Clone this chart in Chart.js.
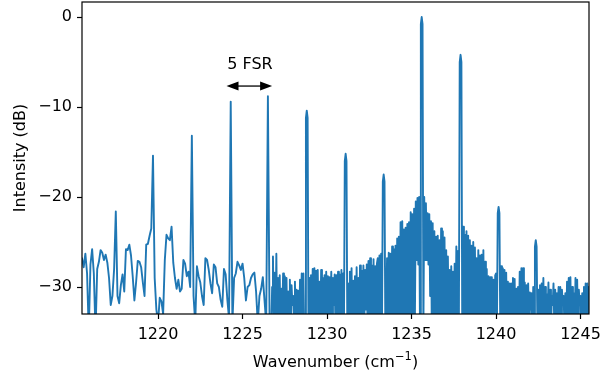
<!DOCTYPE html>
<html lang="en">
<head>
  <meta charset="UTF-8">
  <title>Spectrum</title>
  <script src="https://cdn.jsdelivr.net/npm/chart.js"></script>
  <style>
    body {
      margin: 0;
      padding: 0;
      background: #fff;
    }
    canvas {
      display: block;
    }
  </style>
</head>
<body>
  <canvas id="spectrum" width="601" height="371"></canvas>
  <script>
    // wavenumber grid (cm^-1): 0.1 steps on the quiet side, 0.05 steps from 1226.7 on
    const wavenumber = [
      1215.5, 1215.6, 1215.7, 1215.8, 1215.9,
      1216.0, 1216.1, 1216.2, 1216.3, 1216.4, 1216.5, 1216.6, 1216.7, 1216.8, 1216.9,
      1217.0, 1217.1, 1217.2, 1217.3, 1217.4, 1217.5, 1217.6, 1217.7, 1217.8, 1217.9,
      1218.0, 1218.1, 1218.2, 1218.3, 1218.4, 1218.5, 1218.6, 1218.7, 1218.8, 1218.9,
      1219.0, 1219.1, 1219.2, 1219.3, 1219.4, 1219.5, 1219.6, 1219.7, 1219.8, 1219.9,
      1220.0, 1220.1, 1220.2, 1220.3, 1220.4, 1220.5, 1220.6, 1220.7, 1220.8, 1220.9,
      1221.0, 1221.1, 1221.2, 1221.3, 1221.4, 1221.5, 1221.6, 1221.7, 1221.8, 1221.9,
      1222.0, 1222.1, 1222.2, 1222.3, 1222.4, 1222.5, 1222.6, 1222.7, 1222.8, 1222.9,
      1223.0, 1223.1, 1223.2, 1223.3, 1223.4, 1223.5, 1223.6, 1223.7, 1223.8, 1223.9,
      1224.0, 1224.1, 1224.2, 1224.3, 1224.4, 1224.5, 1224.6, 1224.7, 1224.8, 1224.9,
      1225.0, 1225.1, 1225.2, 1225.3, 1225.4, 1225.5, 1225.6, 1225.7, 1225.8, 1225.9,
      1226.0, 1226.1, 1226.2, 1226.3, 1226.4, 1226.5, 1226.6,
      1226.70, 1226.75, 1226.80, 1226.85, 1226.90, 1226.95,
      1227.00, 1227.05, 1227.10, 1227.15, 1227.20, 1227.25, 1227.30, 1227.35, 1227.40, 1227.45,
      1227.50, 1227.55, 1227.60, 1227.65, 1227.70, 1227.75, 1227.80, 1227.85, 1227.90, 1227.95,
      1228.00, 1228.05, 1228.10, 1228.15, 1228.20, 1228.25, 1228.30, 1228.35, 1228.40, 1228.45,
      1228.50, 1228.55, 1228.60, 1228.65, 1228.70, 1228.75, 1228.80, 1228.85, 1228.90, 1228.95,
      1229.00, 1229.05, 1229.10, 1229.15, 1229.20, 1229.25, 1229.30, 1229.35, 1229.40, 1229.45,
      1229.50, 1229.55, 1229.60, 1229.65, 1229.70, 1229.75, 1229.80, 1229.85, 1229.90, 1229.95,
      1230.00, 1230.05, 1230.10, 1230.15, 1230.20, 1230.25, 1230.30, 1230.35, 1230.40, 1230.45,
      1230.50, 1230.55, 1230.60, 1230.65, 1230.70, 1230.75, 1230.80, 1230.85, 1230.90, 1230.95,
      1231.00, 1231.05, 1231.10, 1231.15, 1231.20, 1231.25, 1231.30, 1231.35, 1231.40, 1231.45,
      1231.50, 1231.55, 1231.60, 1231.65, 1231.70, 1231.75, 1231.80, 1231.85, 1231.90, 1231.95,
      1232.00, 1232.05, 1232.10, 1232.15, 1232.20, 1232.25, 1232.30, 1232.35, 1232.40, 1232.45,
      1232.50, 1232.55, 1232.60, 1232.65, 1232.70, 1232.75, 1232.80, 1232.85, 1232.90, 1232.95,
      1233.00, 1233.05, 1233.10, 1233.15, 1233.20, 1233.25, 1233.30, 1233.35, 1233.40, 1233.45,
      1233.50, 1233.55, 1233.60, 1233.65, 1233.70, 1233.75, 1233.80, 1233.85, 1233.90, 1233.95,
      1234.00, 1234.05, 1234.10, 1234.15, 1234.20, 1234.25, 1234.30, 1234.35, 1234.40, 1234.45,
      1234.50, 1234.55, 1234.60, 1234.65, 1234.70, 1234.75, 1234.80, 1234.85, 1234.90, 1234.95,
      1235.00, 1235.05, 1235.10, 1235.15, 1235.20, 1235.25, 1235.30, 1235.35, 1235.40, 1235.45,
      1235.50, 1235.55, 1235.60, 1235.65, 1235.70, 1235.75, 1235.80, 1235.85, 1235.90, 1235.95,
      1236.00, 1236.05, 1236.10, 1236.15, 1236.20, 1236.25, 1236.30, 1236.35, 1236.40, 1236.45,
      1236.50, 1236.55, 1236.60, 1236.65, 1236.70, 1236.75, 1236.80, 1236.85, 1236.90, 1236.95,
      1237.00, 1237.05, 1237.10, 1237.15, 1237.20, 1237.25, 1237.30, 1237.35, 1237.40, 1237.45,
      1237.50, 1237.55, 1237.60, 1237.65, 1237.70, 1237.75, 1237.80, 1237.85, 1237.90, 1237.95,
      1238.00, 1238.05, 1238.10, 1238.15, 1238.20, 1238.25, 1238.30, 1238.35, 1238.40, 1238.45,
      1238.50, 1238.55, 1238.60, 1238.65, 1238.70, 1238.75, 1238.80, 1238.85, 1238.90, 1238.95,
      1239.00, 1239.05, 1239.10, 1239.15, 1239.20, 1239.25, 1239.30, 1239.35, 1239.40, 1239.45,
      1239.50, 1239.55, 1239.60, 1239.65, 1239.70, 1239.75, 1239.80, 1239.85, 1239.90, 1239.95,
      1240.00, 1240.05, 1240.10, 1240.15, 1240.20, 1240.25, 1240.30, 1240.35, 1240.40, 1240.45,
      1240.50, 1240.55, 1240.60, 1240.65, 1240.70, 1240.75, 1240.80, 1240.85, 1240.90, 1240.95,
      1241.00, 1241.05, 1241.10, 1241.15, 1241.20, 1241.25, 1241.30, 1241.35, 1241.40, 1241.45,
      1241.50, 1241.55, 1241.60, 1241.65, 1241.70, 1241.75, 1241.80, 1241.85, 1241.90, 1241.95,
      1242.00, 1242.05, 1242.10, 1242.15, 1242.20, 1242.25, 1242.30, 1242.35, 1242.40, 1242.45,
      1242.50, 1242.55, 1242.60, 1242.65, 1242.70, 1242.75, 1242.80, 1242.85, 1242.90, 1242.95,
      1243.00, 1243.05, 1243.10, 1243.15, 1243.20, 1243.25, 1243.30, 1243.35, 1243.40, 1243.45,
      1243.50, 1243.55, 1243.60, 1243.65, 1243.70, 1243.75, 1243.80, 1243.85, 1243.90, 1243.95,
      1244.00, 1244.05, 1244.10, 1244.15, 1244.20, 1244.25, 1244.30, 1244.35, 1244.40, 1244.45,
      1244.50, 1244.55, 1244.60, 1244.65, 1244.70, 1244.75, 1244.80, 1244.85, 1244.90, 1244.95,
      1245.00, 1245.05, 1245.10, 1245.15, 1245.20, 1245.25, 1245.30, 1245.35, 1245.40, 1245.45,
      1245.50, 1245.55
    ];

    // measured intensity (dB), laid out like the grid above; the noise floor dips below the plot
    const intensity = [
      -26.8, -27.8, -26.3, -28.5, -35.0,
      -27.5, -25.8, -28.5, -35.0, -28.0, -27.2, -25.9, -26.2, -27.0, -26.4,
      -27.3, -29.0, -32.0, -31.0, -28.0, -21.6, -31.0, -31.8, -29.8, -28.6,
      -30.5, -25.8, -25.9, -25.3, -26.5, -28.8, -31.5, -29.5, -27.1, -27.2,
      -27.8, -29.5, -31.0, -25.3, -25.2, -24.3, -23.5, -15.4, -29.0, -32.5,
      -34.0, -31.2, -31.6, -33.0, -27.0, -24.2, -24.6, -24.8, -23.3, -27.3,
      -29.0, -30.2, -29.2, -30.5, -30.2, -27.0, -27.4, -28.8, -28.3, -30.0,
      -13.2, -31.0, -34.0, -27.7, -28.8, -29.5, -31.0, -32.0, -26.8, -27.0,
      -28.1, -29.6, -30.7, -27.5, -27.8, -29.6, -30.0, -31.4, -32.2, -28.0,
      -28.6, -31.4, -33.5, -9.4, -34.0, -29.0, -28.5, -27.2, -27.6, -28.1,
      -27.4, -29.0, -31.5, -30.0, -29.8, -29.0, -28.6, -28.4, -30.5, -34.0,
      -31.0, -30.2, -28.9, -31.5, -34.0, -8.8, -34.0,
      -35.0, -30.0, -26.6, -35.0, -28.4, -35.0,
      -26.3, -35.0, -29.0, -35.0, -28.7, -35.0, -30.2, -33.0, -28.5, -35.0,
      -28.8, -35.0, -29.0, -35.0, -30.5, -35.0, -29.2, -35.0, -29.8, -32.0,
      -31.0, -35.0, -29.4, -35.0, -30.3, -35.0, -30.4, -35.0, -29.2, -35.0,
      -28.5, -35.0, -28.5, -35.0, -35.0, -11.2, -10.4, -11.2, -35.0, -29.0,
      -35.0, -28.7, -35.0, -28.0, -35.0, -27.9, -35.0, -28.2, -35.0, -28.1,
      -35.0, -29.4, -35.0, -28.1, -35.0, -29.0, -35.0, -28.7, -35.0, -28.3,
      -35.0, -28.8, -35.0, -28.9, -33.0, -28.3, -35.0, -29.0, -32.0, -28.6,
      -35.0, -28.7, -35.0, -28.3, -35.0, -28.6, -35.0, -28.1, -35.0, -28.5,
      -35.0, -16.0, -15.2, -16.0, -35.0, -29.6, -35.0, -28.3, -35.0, -27.9,
      -35.0, -29.3, -35.0, -28.8, -35.0, -27.8, -35.0, -29.0, -35.0, -27.6,
      -35.0, -28.2, -35.0, -27.6, -35.0, -28.1, -32.5, -27.5, -35.0, -27.1,
      -35.0, -26.8, -35.0, -27.6, -35.0, -26.9, -35.0, -27.7, -35.0, -27.4,
      -26.8, -35.0, -26.5, -35.0, -26.3, -35.0, -18.3, -17.5, -18.3, -35.0,
      -33.0, -26.8, -35.0, -26.2, -35.0, -26.3, -35.0, -25.5, -35.0, -25.8,
      -35.0, -25.4, -35.0, -24.6, -35.0, -24.4, -35.0, -22.8, -35.0, -22.7,
      -35.0, -23.6, -35.0, -23.4, -35.0, -23.0, -35.0, -22.8, -35.0, -21.7,
      -35.0, -21.9, -34.0, -21.3, -33.0, -20.5, -27.0, -20.1, -27.5, -20.0,
      -35.0, -0.8, 0.0, -0.8, -35.0, -20.0, -27.0, -20.7, -27.0, -21.8,
      -27.5, -21.9, -31.0, -22.7, -35.0, -22.9, -35.0, -23.8, -35.0, -24.4,
      -33.0, -24.3, -35.0, -24.8, -35.0, -23.5, -35.0, -23.8, -35.0, -24.5,
      -35.0, -25.9, -35.0, -26.6, -35.0, -28.1, -35.0, -27.7, -35.0, -28.3,
      -35.0, -27.4, -35.0, -25.5, -35.0, -26.0, -35.0, -5.0, -4.2, -5.0,
      -35.0, -23.3, -35.0, -24.2, -35.0, -23.8, -35.0, -24.3, -35.0, -24.8,
      -35.0, -25.4, -35.0, -25.0, -35.0, -25.6, -35.0, -26.8, -35.0, -25.9,
      -35.0, -26.5, -35.0, -26.4, -35.0, -25.9, -35.0, -27.2, -35.0, -28.0,
      -35.0, -28.8, -35.0, -28.9, -35.0, -28.9, -35.0, -29.2, -35.0, -28.7,
      -28.5, -35.0, -21.8, -21.1, -21.8, -35.0, -27.7, -35.0, -27.9, -35.0,
      -28.1, -35.0, -28.4, -35.0, -29.4, -35.0, -29.6, -35.0, -29.6, -33.0,
      -29.0, -35.0, -29.1, -35.0, -30.2, -35.0, -30.0, -35.0, -28.3, -35.0,
      -27.9, -35.0, -27.9, -35.0, -29.5, -35.0, -29.8, -35.0, -29.6, -35.0,
      -30.6, -32.5, -30.7, -35.0, -30.0, -35.0, -25.5, -24.8, -25.5, -35.0,
      -30.3, -35.0, -29.8, -35.0, -29.6, -33.0, -29.0, -35.0, -30.0, -35.0,
      -30.8, -33.0, -29.5, -35.0, -30.3, -35.0, -31.0, -32.0, -29.6, -35.0,
      -30.3, -35.0, -30.7, -33.0, -30.0, -35.0, -30.0, -35.0, -30.3, -32.0,
      -31.0, -35.0, -30.7, -35.0, -29.4, -35.0, -29.0, -35.0, -28.9, -35.0,
      -30.0, -33.0, -30.7, -35.0, -29.0, -35.0, -29.2, -35.0, -30.3, -32.0,
      -31.0, -35.0, -30.7, -35.0, -30.0, -35.0, -29.6, -35.0, -29.6, -35.0,
      -30.0, -35.0
    ];

    const xTicks = [1220, 1225, 1230, 1235, 1240, 1245];
    const yTicks = [-30, -20, -10, 0];

    // double arrow marking the comb spacing
    const fsrLabel = '5 FSR';
    const fsrArrow = { from: 1224.05, to: 1226.75, level: -7.67 };
    const fsrText = { x: 1225.44, y: -5.8 };

    const FONT = 'DejaVu Sans';

    const frameAndLabels = {
      id: 'frameAndLabels',
      afterDraw(chart) {
        const { ctx, chartArea: a, scales: { x, y } } = chart;
        ctx.save();
        ctx.strokeStyle = '#000';
        ctx.lineWidth = 1.2;
        ctx.strokeRect(a.left, a.top, a.right - a.left, a.bottom - a.top);

        // arrow with filled heads
        const x1 = x.getPixelForValue(fsrArrow.from);
        const x2 = x.getPixelForValue(fsrArrow.to);
        const ya = y.getPixelForValue(fsrArrow.level);
        const head = 12, half = 4.5;
        ctx.fillStyle = '#000';
        ctx.lineWidth = 1.3;
        ctx.beginPath();
        ctx.moveTo(x1 + head - 1, ya);
        ctx.lineTo(x2 - head + 1, ya);
        ctx.stroke();
        [[x1, 1], [x2, -1]].forEach(([tip, dir]) => {
          ctx.beginPath();
          ctx.moveTo(tip, ya);
          ctx.lineTo(tip + dir * head, ya - half);
          ctx.lineTo(tip + dir * head, ya + half);
          ctx.closePath();
          ctx.fill();
        });

        ctx.font = '16px "' + FONT + '"';
        ctx.textAlign = 'center';
        ctx.textBaseline = 'alphabetic';
        ctx.fillText(fsrLabel, x.getPixelForValue(fsrText.x), y.getPixelForValue(fsrText.y));

        // x axis title with a raised exponent
        const main = 'Wavenumber (cm', sup = '\u22121', tail = ')';
        const big = '16px "' + FONT + '"', small = '11.5px "' + FONT + '"';
        ctx.textAlign = 'left';
        ctx.font = big;
        const w1 = ctx.measureText(main).width;
        const w3 = ctx.measureText(tail).width;
        ctx.font = small;
        const w2 = ctx.measureText(sup).width;
        const base = 366.5;
        let tx = (a.left + a.right) / 2 - (w1 + w2 + w3) / 2;
        ctx.font = big;
        ctx.fillText(main, tx, base);
        tx += w1;
        ctx.font = small;
        ctx.fillText(sup, tx, base - 6.5);
        tx += w2;
        ctx.font = big;
        ctx.fillText(tail, tx, base);
        ctx.restore();
      }
    };

    const tickMarks = {
      display: true,
      drawOnChartArea: false,
      drawTicks: true,
      tickLength: 5,
      tickWidth: 1.2,
      tickColor: '#000'
    };

    new Chart(document.getElementById('spectrum'), {
      type: 'line',
      data: {
        datasets: [{
          data: wavenumber.map((w, i) => ({ x: w, y: intensity[i] })),
          borderColor: '#1f77b4',
          borderWidth: 1.9,
          borderJoinStyle: 'round',
          borderCapStyle: 'round',
          pointRadius: 0,
          tension: 0,
          fill: false
        }]
      },
      options: {
        responsive: false,
        animation: false,
        devicePixelRatio: 1,
        layout: { padding: { left: 0, top: 2, right: 12, bottom: 0 } },
        plugins: {
          legend: { display: false },
          tooltip: { enabled: false }
        },
        scales: {
          x: {
            type: 'linear',
            min: 1215.5,
            max: 1245.5,
            grid: tickMarks,
            border: { display: false },
            afterBuildTicks: s => { s.ticks = xTicks.map(v => ({ value: v })); },
            afterFit: s => {
              s.height = 57;
              s.paddingLeft = 0;
              s.paddingRight = 0;
            },
            ticks: {
              color: '#000',
              padding: 6,
              maxRotation: 0,
              font: { family: FONT, size: 16 },
              callback: v => String(v)
            },
            title: { display: false }
          },
          y: {
            type: 'linear',
            min: -33,
            max: 1.67,
            grid: tickMarks,
            border: { display: false },
            afterBuildTicks: s => { s.ticks = yTicks.map(v => ({ value: v })); },
            afterFit: s => {
              s.width = 82;
              s.paddingTop = 0;
              s.paddingBottom = 0;
            },
            ticks: {
              color: '#000',
              padding: 5,
              font: { family: FONT, size: 16 },
              callback: v => String(v).replace('-', '\u2212')
            },
            title: {
              display: true,
              text: 'Intensity (dB)',
              color: '#000',
              padding: { top: 11, bottom: 0 },
              font: { family: FONT, size: 16, lineHeight: 1.2 }
            }
          }
        }
      },
      plugins: [frameAndLabels]
    });
  </script>
</body>
</html>
